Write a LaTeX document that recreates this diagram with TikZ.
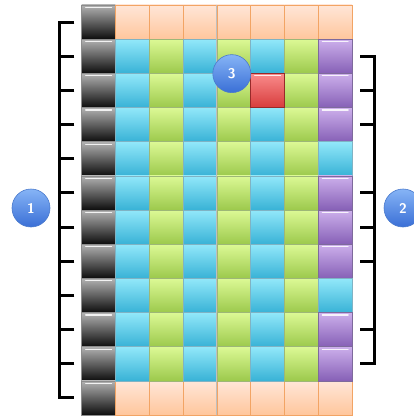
\documentclass[tikz,border=0pt]{standalone}
\usepackage{tikz}

\definecolor{cyanhi}{HTML}{92E8FA}
\definecolor{cyanlo}{HTML}{38B2D6}
\definecolor{cyanrim}{HTML}{7FB3C4}
\definecolor{greenhi}{HTML}{DCF995}
\definecolor{greenlo}{HTML}{9CC94C}
\definecolor{greenrim}{HTML}{9DB777}
\definecolor{purplehi}{HTML}{CDB0EC}
\definecolor{purplelo}{HTML}{8660B6}
\definecolor{purplerim}{HTML}{7E6A9C}
\definecolor{redhi}{HTML}{FA8C8C}
\definecolor{redlo}{HTML}{D83C3C}
\definecolor{peachhi}{HTML}{FFE6D8}
\definecolor{peachlo}{HTML}{FFC69C}
\definecolor{peachrim}{HTML}{F2A464}
\definecolor{badgehi}{HTML}{86B4F6}
\definecolor{badgelo}{HTML}{3A6FD6}
\definecolor{badgerim}{HTML}{4A7ACC}

\newcommand*{\cw}{33.8}
\newcommand*{\ch}{34.17}
\newcommand*{\gx}{81.7}
\newcommand*{\gy}{5}

\begin{document}
\begin{tikzpicture}
[
	x=1pt,
	y=-1pt,
	cell/.style={rectangle,inner sep=0pt,minimum width=\cw pt,minimum height=\ch pt,line width=0.6pt},
	gloss/.style={path picture={\draw[white,line width=1.2pt,opacity=0.85,line cap=round]
		([xshift=4pt,yshift=-2.5pt]path picture bounding box.north west) --
		([xshift=-4pt,yshift=-2.5pt]path picture bounding box.north east);}},
	blackcell/.style={cell,gloss,top color=black!30,bottom color=black!95,draw=black!45},
	peachcell/.style={cell,top color=peachhi,bottom color=peachlo,draw=peachrim},
	bluecell/.style={cell,top color=cyanhi,bottom color=cyanlo,draw=cyanrim},
	greencell/.style={cell,top color=greenhi,bottom color=greenlo,draw=greenrim},
	purplecell/.style={cell,gloss,top color=purplehi,bottom color=purplelo,draw=purplerim},
	redcell/.style={cell,gloss,top color=redhi,bottom color=redlo,draw=redlo!70!black},
	badge/.style={circle,minimum size=38pt,inner sep=0pt,top color=badgehi,bottom color=badgelo,
		draw=badgerim,line width=0.6pt,text=white,font=\sffamily\bfseries\fontsize{14}{16}\selectfont},
	brkt/.style={line width=3pt,black}
]

	\useasboundingbox (0,0) rectangle (413,417);

	% left column
	\foreach \r in {0,...,11}
		\node[blackcell] (c\r-0) at ({\gx+0.5*\cw},{\gy+(\r+0.5)*\ch}) {};

	% top and bottom rows
	\foreach \r in {0,11}
		\foreach \c in {1,...,7}
			\node[peachcell] (c\r-\c) at ({\gx+(\c+0.5)*\cw},{\gy+(\r+0.5)*\ch}) {};

	% body
	\foreach \r in {1,...,10}
		\foreach \c/\s in {1/bluecell,2/greencell,3/bluecell,4/greencell,5/bluecell,6/greencell}
			\node[\s] (c\r-\c) at ({\gx+(\c+0.5)*\cw},{\gy+(\r+0.5)*\ch}) {};

	% last column
	\foreach \r/\s in {1/purplecell,2/purplecell,3/purplecell,4/bluecell,5/purplecell,
		6/purplecell,7/purplecell,8/bluecell,9/purplecell,10/purplecell}
		\node[\s] (c\r-7) at ({\gx+7.5*\cw},{\gy+(\r+0.5)*\ch}) {};

	\node[redcell] (hit) at (c2-5) {};

	\draw[black!25,line width=0.7pt] (c0-4.north west) -- (c11-4.south west);

	% left bracket
	\draw[brkt] ([xshift=-7pt]c0-0.west) -| ([xshift=-22pt]c11-0.west) -- ([xshift=-7pt]c11-0.west);
	\foreach \r in {1,...,10}
		\draw[brkt] ([xshift=-7pt]c\r-0.west) -- ([xshift=-22pt]c\r-0.west);

	% right bracket
	\draw[brkt] ([xshift=8pt]c1-7.east) -| ([xshift=22pt]c10-7.east) -- ([xshift=8pt]c10-7.east);
	\foreach \r in {2,3,5,6,7,9}
		\draw[brkt] ([xshift=8pt]c\r-7.east) -- ([xshift=22pt]c\r-7.east);

	% badges
	\node[badge] (one) at (31,208) {1};
	\node[badge] (two) at (403,208) {2};
	\node[badge,xshift=-2pt] (three) at (c1-4.south) {3};

\end{tikzpicture}
\end{document}
